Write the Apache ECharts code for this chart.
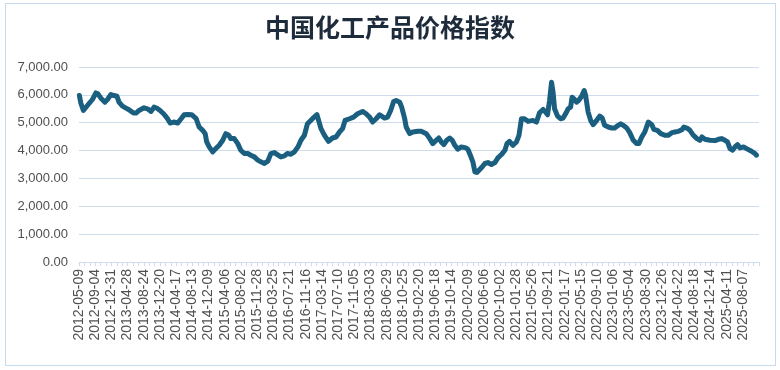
<!DOCTYPE html>
<html>
<head>
<meta charset="utf-8">
<script src="https://cdn.jsdelivr.net/npm/echarts@6/dist/echarts.min.js"></script>
<style>
html,body{margin:0;padding:0;background:#fff;}
#frame{position:absolute;left:5px;top:3px;width:769px;height:361px;border:1px solid #c6dbf2;}
#chart{position:absolute;left:0;top:0;width:780px;height:370px;}
</style>
</head>
<body>
<div id="frame"></div>
<div id="chart"></div>
<script>
// Chart title
const chartTitle = '中国化工产品价格指数';

const obsYears = [
  2012.36,2012.39,2012.44,2012.52,2012.62,2012.69,2012.73,2012.79,2012.87,2012.92,2012.99,
  2013.05,2013.11,2013.15,2013.22,2013.29,2013.35,2013.44,2013.49,2013.55,2013.65,2013.72,2013.79,2013.85,2013.91,2013.97,
  2014.04,2014.11,2014.17,2014.24,2014.32,2014.39,2014.45,2014.52,2014.60,2014.69,2014.75,2014.82,2014.87,2014.90,2014.95,
  2015.02,2015.08,2015.15,2015.22,2015.28,2015.34,2015.38,2015.45,2015.52,2015.58,2015.65,2015.72,2015.78,2015.85,2015.92,2015.98,
  2016.05,2016.12,2016.18,2016.25,2016.31,2016.38,2016.45,2016.51,2016.58,2016.65,2016.72,2016.78,2016.85,2016.91,
  2017.01,2017.10,2017.18,2017.25,2017.33,2017.41,2017.48,2017.55,2017.61,2017.66,2017.75,2017.83,2017.91,
  2018.01,2018.08,2018.15,2018.21,2018.28,2018.35,2018.45,2018.51,2018.57,2018.63,2018.68,2018.75,2018.79,2018.85,2018.88,2018.95,
  2019.01,2019.11,2019.18,2019.28,2019.35,2019.41,2019.48,2019.53,2019.58,2019.63,2019.69,2019.75,2019.80,2019.85,2019.91,2019.98,
  2020.07,2020.11,2020.16,2020.21,2020.25,2020.29,2020.38,2020.45,2020.51,2020.58,2020.65,2020.71,2020.78,2020.85,2020.89,2020.94,
  2021.01,2021.08,2021.13,2021.16,2021.18,2021.24,2021.31,2021.41,2021.48,2021.54,2021.61,2021.66,2021.70,2021.74,2021.78,2021.81,2021.84,2021.90,2021.96,
  2022.01,2022.06,2022.11,2022.16,2022.19,2022.23,2022.28,2022.32,2022.38,2022.43,2022.46,2022.51,2022.56,2022.61,2022.68,2022.74,2022.79,2022.84,2022.91,2022.98,
  2023.04,2023.11,2023.16,2023.21,2023.28,2023.34,2023.41,2023.48,2023.52,2023.58,2023.64,2023.71,2023.74,2023.78,2023.82,2023.89,2023.96,
  2024.04,2024.11,2024.18,2024.24,2024.31,2024.38,2024.42,2024.48,2024.54,2024.60,2024.68,2024.74,2024.78,2024.84,2024.94,
  2025.04,2025.11,2025.17,2025.24,2025.29,2025.34,2025.39,2025.44,2025.49,2025.54,2025.61,2025.67,2025.77,2025.84,2025.87
];

// Index values at those times
const indexValues = [
  5980,5700,5440,5619,5833,6070,6036,5881,5738,5833,6012,
  5976,5952,5738,5595,5524,5464,5345,5345,5440,5536,5500,5405,5560,5520,5440,
  5321,5167,4988,5024,4988,5143,5286,5298,5286,5143,4845,4726,4607,4310,4131,
  3952,4071,4190,4369,4607,4548,4429,4429,4250,4012,3893,3893,3833,3774,3655,3595,
  3536,3619,3893,3929,3857,3774,3810,3893,3869,3952,4131,4369,4550,4964,
  5143,5286,4786,4548,4333,4452,4488,4667,4786,5083,5143,5202,5321,
  5405,5321,5202,5024,5143,5286,5167,5202,5440,5762,5798,5738,5560,5143,4845,4607,
  4667,4690,4690,4607,4429,4250,4369,4452,4310,4214,4369,4452,4369,4190,4048,4131,
  4095,4048,3833,3595,3238,3214,3381,3536,3571,3500,3571,3738,3857,4012,4250,4333,
  4190,4310,4548,4905,5143,5143,5048,5083,5024,5357,5476,5381,5286,5798,6452,6095,5500,5238,5143,
  5167,5321,5500,5560,5917,5857,5738,5798,5952,6155,5976,5381,5083,4929,5083,5238,5167,4905,4845,4810,
  4810,4905,4964,4905,4810,4643,4369,4250,4250,4488,4667,5024,5083,4929,4762,4726,4607,
  4548,4548,4643,4667,4690,4750,4845,4810,4726,4571,4429,4369,4488,4405,4369,
  4357,4405,4429,4369,4310,4071,4012,4131,4214,4095,4131,4071,3976,3893,3833
];

// Tick labels: start date and spacing (days) of the category labels
const tickStartDate = '2012-05-09';
const tickStepDays = 118;
const axisEndDays = 4955;

// Y axis ticks
const yTicks = [0, 1000, 2000, 3000, 4000, 5000, 6000, 7000];

const DAY = 86400000;
const startMs = Date.parse(tickStartDate + 'T00:00:00Z');
const startYear = 2012 + (startMs - Date.UTC(2012,0,1)) / (366 * DAY);
const seriesData = obsYears.map((y, i) => [Math.max(0, (y - startYear) * 365.25), indexValues[i]]);

function fmtDate(d) {
  const dt = new Date(startMs + Math.round(d) * DAY);
  const mm = String(dt.getUTCMonth() + 1).padStart(2, '0');
  const dd = String(dt.getUTCDate()).padStart(2, '0');
  return dt.getUTCFullYear() + '-' + mm + '-' + dd;
}

const chart = echarts.init(document.getElementById('chart'), null, {renderer: 'canvas'});
const gridColor = '#cfdcec';
chart.setOption({
  animation: false,
  backgroundColor: 'transparent',
  title: {
    text: chartTitle,
    left: 'center',
    top: 10,
    textStyle: {fontFamily: 'Noto Sans CJK SC', fontSize: 25, fontWeight: 'bold', color: '#1d2b3a'}
  },
  grid: {left: 79, right: 21, top: 67, bottom: 108, containLabel: false},
  xAxis: {
    type: 'value',
    min: 0,
    max: axisEndDays,
    interval: tickStepDays,
    axisLine: {show: true, lineStyle: {color: gridColor, width: 1}},
    axisTick: {show: true, length: 4, lineStyle: {color: gridColor}},
    minorTick: {show: true, splitNumber: 3, length: 4, lineStyle: {color: gridColor}},
    splitLine: {show: false},
    axisLabel: {
      rotate: 90, margin: 7, showMaxLabel: false,
      fontFamily: 'Liberation Sans', fontSize: 14, color: '#505050',
      formatter: v => (v > 41 * tickStepDays + 1 ? '' : fmtDate(v))
    }
  },
  yAxis: {
    type: 'value',
    min: yTicks[0],
    max: yTicks[yTicks.length - 1],
    interval: yTicks[1] - yTicks[0],
    axisLine: {show: false},
    axisTick: {show: false},
    splitLine: {lineStyle: {color: gridColor, width: 1}},
    axisLabel: {
      margin: 11,
      fontFamily: 'Liberation Sans', fontSize: 13, color: '#505050',
      formatter: v => v.toLocaleString('en-US', {minimumFractionDigits: 2, maximumFractionDigits: 2})
    }
  },
  series: [{
    type: 'line',
    data: seriesData,
    showSymbol: false,
    smooth: false,
    lineStyle: {color: '#1a5f80', width: 5, join: 'round', cap: 'round'}
  }]
});
</script>
</body>
</html>
